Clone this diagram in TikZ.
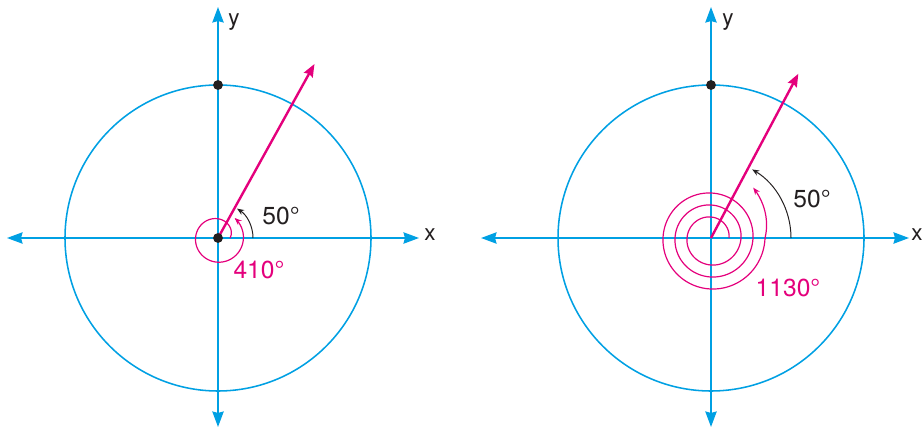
\documentclass[tikz,border=0pt]{standalone}
\usepackage{fontspec}
\setmainfont{TeX Gyre Heros}
\usetikzlibrary{arrows.meta}
\definecolor{axisblue}{RGB}{0,160,227}
\definecolor{rose}{RGB}{228,0,124}
\definecolor{ink}{RGB}{35,31,32}

\begin{document}
\begin{tikzpicture}[x=0.025cm,y=0.025cm,
  axis/.style={axisblue,line width=1.4pt,{Stealth[length=11pt,width=8pt,inset=1pt]}-{Stealth[length=11pt,width=8pt,inset=1pt]}},
  ring/.style={axisblue,line width=1.1pt},
  ray/.style={rose,line width=1.7pt,-{Stealth[length=9pt,width=7pt,inset=1pt]}},
  turn/.style={rose,line width=0.85pt,-{Stealth[length=5pt,width=4pt]}},
  sweep/.style={ink,line width=0.7pt,-{Stealth[length=5pt,width=4pt]}},
  dot/.style={circle,fill=ink,inner sep=0pt,minimum size=7pt},
  deg/.style={font=\fontsize{17.5}{20}\selectfont},
  axlbl/.style={ink,font=\fontsize{16}{18}\selectfont}]
\useasboundingbox (0,0) rectangle (924,428);

% left: 410 degrees
\coordinate (o1) at (218,190);
\draw[ring] (o1) circle (153);
\draw[axis] (o1) ++(-211,0) -- ++(412,0);
\draw[axis] (o1) ++(0,-189) -- ++(0,420);
\draw[ray] (o1) -- ++(61:199);
\begin{scope}[shift={(o1)}]
\draw[turn] plot[domain=0:410,samples=160,smooth] ({(12+10*(1-exp(-\x/90))+\x/100)*cos(\x)},{(12+10*(1-exp(-\x/90))+\x/100)*sin(\x)});
\end{scope}
\draw[sweep] (o1) ++(35,0) arc[start angle=0,end angle=57,radius=35];
\node[dot] (c1) at (o1) {};
\path (o1) ++(0,153) node[dot] (t1) {};
\node[deg,ink] (a1) at (281,212) {50°};
\node[deg,rose] (b1) at (259,158) {410°};
\node[axlbl] (x1) at (430,193) {x};
\node[axlbl] (y1) at (234,406) {y};

% right: 1130 degrees
\coordinate (o2) at (711,190);
\draw[ring] (o2) circle (153);
\draw[axis] (o2) ++(-230,0) -- ++(428,0);
\draw[axis] (o2) ++(0,-189) -- ++(0,420);
\draw[ray] (o2) -- ++(62:186);
\begin{scope}[shift={(o2)}]
\draw[turn] plot[domain=0:1130,samples=400,smooth] ({(18+\x/30+0.2*max(0,\x-1080))*cos(\x)},{(18+\x/30+0.2*max(0,\x-1080))*sin(\x)});
\end{scope}
\draw[sweep] (o2) ++(80,0) arc[start angle=0,end angle=59,radius=80];
\path (o2) ++(0,153) node[dot] (t2) {};
\node[deg,ink] (a2) at (812,229) {50°};
\node[deg,rose] (b2) at (788,140) {1130°};
\node[axlbl] (x2) at (917,193) {x};
\node[axlbl] (y2) at (728,406) {y};
\end{tikzpicture}
\end{document}
